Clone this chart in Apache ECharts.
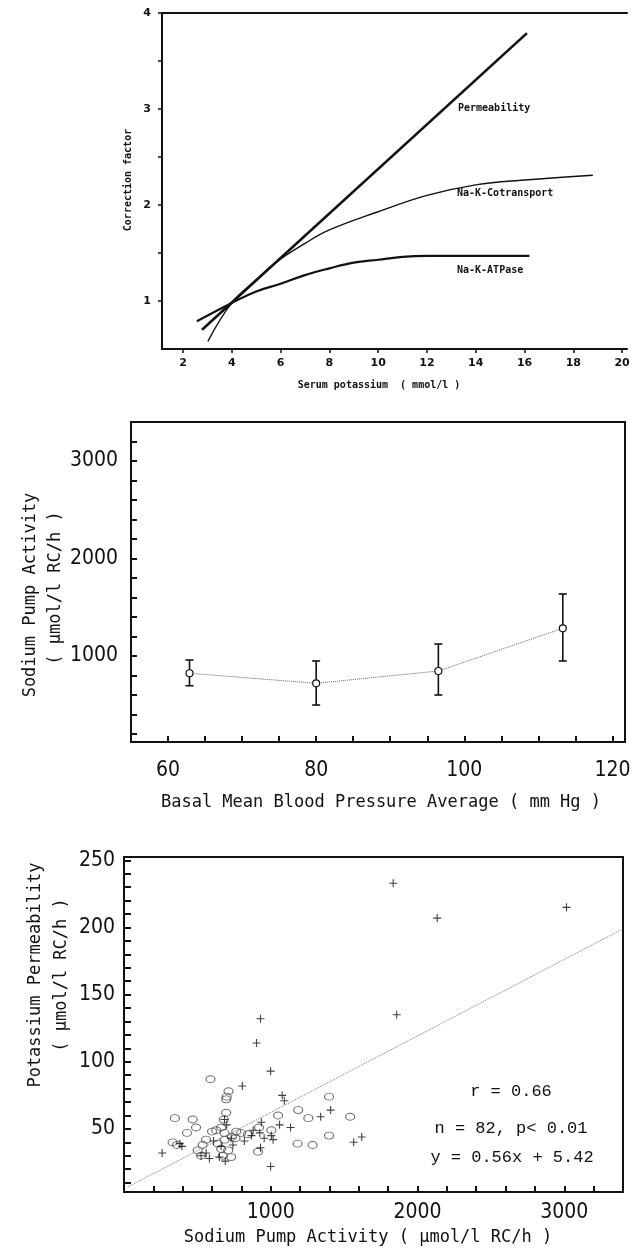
<!DOCTYPE html>
<html><head><meta charset="utf-8">
<script src="https://cdn.jsdelivr.net/npm/echarts@6/dist/echarts.min.js"></script>
<style>html,body{margin:0;padding:0;background:#fff}#c{width:641px;height:1257px}</style>
</head><body><div id="c"></div>
<script>
// ---------- Chart 1: correction factor vs serum potassium ----------
const permX = [2.78, 16.1];
const permY = [0.70, 3.79];
const cotX = [3.02, 4, 5, 5.85, 7, 8, 10, 12, 14, 16, 18.8];
const cotY = [0.58, 0.98, 1.22, 1.41, 1.60, 1.74, 1.93, 2.10, 2.21, 2.26, 2.31];
const atpX = [2.57, 4, 5, 6, 7, 8, 9, 10, 11, 12, 14, 16.2];
const atpY = [0.79, 0.98, 1.10, 1.18, 1.27, 1.34, 1.40, 1.43, 1.46, 1.47, 1.47, 1.47];
const c1XLabels = [2, 4, 6, 8, 10, 12, 14, 16, 18, 20];
const c1YTicks = [1, 1.5, 2, 2.5, 3, 3.5, 4];
const c1YLabels = [1, 2, 3, 4];

// ---------- Chart 2: sodium pump activity vs blood pressure ----------
const bpX = [62.9, 80.0, 96.5, 113.3];
const pumpMean = [823, 720, 846, 1284];
const pumpLow = [695, 497, 600, 949];
const pumpHigh = [959, 949, 1123, 1636];
const c2XTicks = [60, 65, 70, 75, 80, 85, 90, 95, 100, 105, 110, 115, 120];
const c2XLabels = [60, 80, 100, 120];
const c2YTicks = [200,400,600,800,1000,1200,1400,1600,1800,2000,2200,2400,2600,2800,3000,3200];
const c2YLabels = [1000, 2000, 3000];

// ---------- Chart 3: potassium permeability vs sodium pump activity ----------
const crossPts = [
  [1834,233],[2134,207],[3015,215],[1858,135],[930,132],[903,114],[999,93],[806,82],
  [1078,75],[1092,71],[1408,64],[1340,59],[1135,51],[1565,40],[1620,44],[999,22],
  [260,32],[380,39],[395,37],[525,30],[582,28],[662,37],[742,38],[685,57],
  [868,45],[925,47],[936,55],[1016,42],[1004,45],[880,49],[700,53],[610,41],
  [560,32],[690,26],[650,29],[730,43],[820,41],[955,43],[1060,53],[930,36]
];
const circlePts = [
  [589,87],[712,78],[700,74],[696,72],[1397,74],[347,58],[468,57],[491,51],
  [429,47],[331,40],[361,38],[696,62],[680,57],[662,51],[628,49],[685,47],
  [765,48],[799,47],[735,44],[685,42],[559,42],[536,38],[502,34],[525,30],
  [673,30],[730,29],[662,35],[1187,64],[1256,58],[1541,59],[913,33],[1183,39],
  [1285,38],[1397,45],[1050,60],[920,51],[1004,49],[600,48],[640,39],[710,34],
  [760,43],[845,46]
];
const regLine = [[30, 7], [3400, 199]];
const c3XTicks = [200,400,600,800,1000,1200,1400,1600,1800,2000,2200,2400,2600,2800,3000,3200];
const c3XLabels = [1000, 2000, 3000];
const c3YTicks = [10,20,30,40,50,60,70,80,90,100,110,120,130,140,150,160,170,180,190,200,210,220,230,240,250];
const c3YLabels = [50, 100, 150, 200, 250];

const INK = '#111';
const NARROW = '"DejaVu Sans Condensed","DejaVu Sans",sans-serif';
const MONO = '"DejaVu Sans Mono",monospace';
const plain = v => String(v);

function errRender(params, api) {
  const x = api.value(0), lo = api.value(1), hi = api.value(2);
  const a = api.coord([x, lo]), b = api.coord([x, hi]);
  const w = 4;
  const st = {stroke: INK, lineWidth: 1.6};
  return {type: 'group', children: [
    {type: 'line', shape: {x1: a[0], y1: a[1], x2: b[0], y2: b[1]}, style: st},
    {type: 'line', shape: {x1: a[0]-w, y1: a[1], x2: a[0]+w, y2: a[1]}, style: st},
    {type: 'line', shape: {x1: b[0]-w, y1: b[1], x2: b[0]+w, y2: b[1]}, style: st}
  ]};
}
function txt(x, y, text, font, rot, align) {
  return {type: 'text', x: x, y: y, rotation: rot || 0,
    style: {text: text, font: font, fill: INK, textAlign: align || 'center', align: align || 'center',
            textVerticalAlign: 'middle', verticalAlign: 'middle'}};
}

const chart = echarts.init(document.getElementById('c'), null, {renderer: 'canvas'});
const axLine = {lineStyle: {color: INK, width: 2}};
const option = {
  animation: false,
  backgroundColor: '#fff',
  grid: [
    {left: 162, top: 13, width: 465, height: 336},
    {left: 131, top: 422, width: 494, height: 320, show: true, borderColor: INK, borderWidth: 2, backgroundColor: 'transparent'},
    {left: 124, top: 857, width: 499, height: 335, show: true, borderColor: INK, borderWidth: 2, backgroundColor: 'transparent'}
  ],
  xAxis: [
    {gridIndex: 0, type: 'value', min: 1.14, max: 20.2, axisLine: axLine,
     axisTick: {customValues: c1XLabels, length: 4, lineStyle: {color: INK, width: 1.5}},
     axisLabel: {customValues: c1XLabels, formatter: plain, margin: 9, color: INK, fontSize: 11, fontWeight: 'bold', fontFamily: 'DejaVu Sans'},
     splitLine: {show: false}},
    {gridIndex: 0, type: 'value', position: 'top', min: 1.14, max: 20.2, axisLine: axLine,
     axisTick: {show: false}, axisLabel: {show: false}, splitLine: {show: false}},
    {gridIndex: 1, type: 'value', min: 55, max: 121.7, axisLine: axLine,
     axisTick: {customValues: c2XTicks, inside: true, length: 6, lineStyle: {color: INK, width: 2}},
     axisLabel: {customValues: c2XLabels, formatter: plain, margin: 18, color: INK, fontSize: 21, fontFamily: NARROW},
     splitLine: {show: false}},
    {gridIndex: 2, type: 'value', min: 0, max: 3400, axisLine: axLine,
     axisTick: {customValues: c3XTicks, inside: true, length: 6, lineStyle: {color: INK, width: 2}},
     axisLabel: {customValues: c3XLabels, formatter: plain, margin: 10, color: INK, fontSize: 21, fontFamily: NARROW},
     splitLine: {show: false}}
  ],
  yAxis: [
    {gridIndex: 0, type: 'value', min: 0.5, max: 4, axisLine: axLine,
     axisTick: {customValues: c1YTicks, length: 4, lineStyle: {color: INK, width: 1.5}},
     axisLabel: {customValues: c1YLabels, formatter: plain, margin: 11, color: INK, fontSize: 11, fontWeight: 'bold', fontFamily: 'DejaVu Sans'},
     splitLine: {show: false}},
    {gridIndex: 1, type: 'value', min: 118, max: 3400, axisLine: axLine,
     axisTick: {customValues: c2YTicks, inside: true, length: 6, lineStyle: {color: INK, width: 2}},
     axisLabel: {customValues: c2YLabels, formatter: plain, margin: 13, color: INK, fontSize: 21, fontFamily: NARROW},
     splitLine: {show: false}},
    {gridIndex: 2, type: 'value', min: 3, max: 252.5, axisLine: axLine,
     axisTick: {customValues: c3YTicks, inside: true, length: 7, lineStyle: {color: INK, width: 2}},
     axisLabel: {customValues: c3YLabels, formatter: plain, margin: 9, color: INK, fontSize: 21, fontFamily: NARROW},
     splitLine: {show: false}}
  ],
  series: [
    {name: 'Permeability', type: 'line', xAxisIndex: 0, yAxisIndex: 0, symbol: 'none',
     data: permX.map((x, i) => [x, permY[i]]), lineStyle: {color: INK, width: 2.6}},
    {name: 'Na-K-Cotransport', type: 'line', xAxisIndex: 0, yAxisIndex: 0, symbol: 'none', smooth: 0.4,
     data: cotX.map((x, i) => [x, cotY[i]]), lineStyle: {color: INK, width: 1.4}},
    {name: 'Na-K-ATPase', type: 'line', xAxisIndex: 0, yAxisIndex: 0, symbol: 'none', smooth: 0.4,
     data: atpX.map((x, i) => [x, atpY[i]]), lineStyle: {color: INK, width: 2.2}},

    {name: 'Mean', type: 'line', xAxisIndex: 2, yAxisIndex: 1, symbol: 'circle', symbolSize: 7,
     data: bpX.map((x, i) => [x, pumpMean[i]]),
     lineStyle: {color: '#666', width: 1, type: 'dotted'},
     itemStyle: {color: '#fff', borderColor: INK, borderWidth: 1.2}, z: 3},
    {name: 'SD', type: 'custom', xAxisIndex: 2, yAxisIndex: 1, renderItem: errRender,
     data: bpX.map((x, i) => [x, pumpLow[i], pumpHigh[i]]), encode: {x: 0, y: [1, 2]}, z: 2},

    {name: 'Regression', type: 'line', xAxisIndex: 3, yAxisIndex: 2, symbol: 'none',
     data: regLine, lineStyle: {color: '#777', width: 1, type: 'dotted'}},
    {name: 'Circles', type: 'scatter', xAxisIndex: 3, yAxisIndex: 2, symbol: 'circle', symbolSize: [9, 7],
     data: circlePts, itemStyle: {color: 'transparent', borderColor: '#444', borderWidth: 1}},
    {name: 'Crosses', type: 'scatter', xAxisIndex: 3, yAxisIndex: 2,
     symbol: 'path://M5,0L5,10M0,5L10,5', symbolSize: 8,
     data: crossPts, itemStyle: {color: 'transparent', borderColor: INK, borderWidth: 1.1}}
  ],
  graphic: [
    txt(458, 108, 'Permeability', 'bold 10px "DejaVu Sans Mono"', 0, 'left'),
    txt(457, 193, 'Na-K-Cotransport', 'bold 10px "DejaVu Sans Mono"', 0, 'left'),
    txt(457, 270, 'Na-K-ATPase', 'bold 10px "DejaVu Sans Mono"', 0, 'left'),
    txt(379, 385, 'Serum potassium  ( mmol/l )', 'bold 10px "DejaVu Sans Mono"'),
    txt(128, 180, 'Correction factor', 'bold 10px "DejaVu Sans Mono"', Math.PI / 2),
    txt(31, 595, 'Sodium Pump Activity', '17px ' + MONO, Math.PI / 2),
    txt(56, 588, '( µmol/l RC/h )', '17px ' + MONO, Math.PI / 2),
    txt(381, 803, 'Basal Mean Blood Pressure Average ( mm Hg )', '17px ' + MONO),
    txt(36, 975, 'Potassium Permeability', '17px ' + MONO, Math.PI / 2),
    txt(62, 975, '( µmol/l RC/h )', '17px ' + MONO, Math.PI / 2),
    txt(368, 1238, 'Sodium Pump Activity ( µmol/l RC/h )', '17px ' + MONO),
    txt(511, 1091, 'r = 0.66', '17px "Liberation Mono"'),
    txt(511, 1128, 'n = 82, p< 0.01', '17px "Liberation Mono"'),
    txt(512, 1157, 'y = 0.56x + 5.42', '17px "Liberation Mono"')
  ]
};
chart.setOption(option);
</script>
</body></html>
